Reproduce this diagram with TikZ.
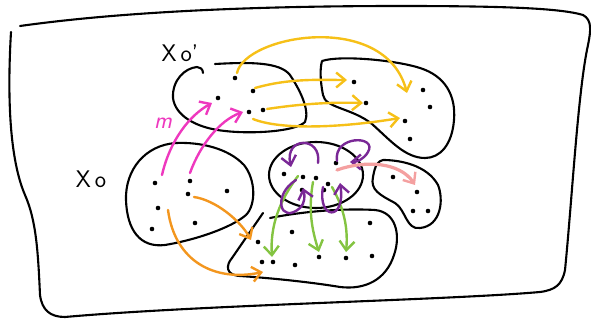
\documentclass[tikz,border=0pt]{standalone}
\usetikzlibrary{arrows.meta}
\definecolor{cyel}{RGB}{246,192,24}
\definecolor{cpink}{RGB}{238,56,190}
\definecolor{cora}{RGB}{243,150,30}
\definecolor{cpur}{RGB}{122,40,150}
\definecolor{cgrn}{RGB}{132,196,66}
\definecolor{csal}{RGB}{244,160,160}
\tikzset{
  blk/.style={line width=2.1pt,line cap=round,line join=round,black},
  arr/.style={line width=2.4pt,line cap=round,-{Straight Barb[length=9pt,width=15pt,line width=2.4pt]}},
  dotn/.style={circle,fill=black,inner sep=0pt,minimum size=4.6pt},
  lbl/.style={font=\fontsize{24}{24}\sffamily,inner sep=0pt}
}
\begin{document}
\begin{tikzpicture}[x=1pt,y=-1pt]
\useasboundingbox (0,0) rectangle (591,320);
% frame
\draw[blk] (20,26) .. controls (120,12) and (250,6) .. (400,6)
  .. controls (500,6) and (560,8) .. (583,15)
  .. controls (592,20) and (591,30) .. (588,45)
  .. controls (578,90) and (572,200) .. (565,270)
  .. controls (562,285) and (555,290) .. (540,292)
  .. controls (450,300) and (200,305) .. (65,317)
  .. controls (50,317) and (42,310) .. (40,295)
  .. controls (38,250) and (36,220) .. (25,195)
  .. controls (10,160) and (7,100) .. (11,32);
% labels
\node[lbl] (lx0p) at (180,53) {X\,o'};
\node[lbl] (lx0) at (91,179) {X\,o};
\node[font=\fontsize{24}{24}\sffamily\itshape,text=cpink,inner sep=0pt] (lm) at (163,123) {m};
% blobs
\draw[blk] (215,64) .. controls (250,62) and (280,62) .. (290,75)
  .. controls (300,90) and (310,110) .. (305,122)
  .. controls (295,132) and (250,134) .. (225,131)
  .. controls (195,128) and (175,115) .. (173,98)
  .. controls (172,80) and (185,68) .. (197,67)
  .. controls (200,67) and (203,69) .. (203,73);
\draw[blk] (322,61) .. controls (340,55) and (395,60) .. (420,68)
  .. controls (445,76) and (456,95) .. (454,120)
  .. controls (452,145) and (440,158) .. (425,158)
  .. controls (405,158) and (390,140) .. (372,124)
  .. controls (352,108) and (325,108) .. (323,95)
  .. controls (320,80) and (320,68) .. (322,61);
\draw[blk] (176,143) .. controls (200,142) and (228,148) .. (244,165)
  .. controls (256,180) and (256,205) .. (246,215)
  .. controls (231,228) and (195,240) .. (165,245)
  .. controls (140,248) and (127,230) .. (126,200)
  .. controls (125,170) and (145,145) .. (176,143) -- cycle;
\draw[blk] (316,175) ellipse [x radius=47, y radius=33];
\draw[blk] (383,160) .. controls (400,160) and (427,165) .. (438,185)
  .. controls (444,200) and (441,226) .. (420,228)
  .. controls (406,230) and (406,210) .. (395,203)
  .. controls (380,195) and (370,190) .. (373,177)
  .. controls (375,165) and (378,161) .. (383,160);
\draw[blk] (270,218) .. controls (300,212) and (340,208) .. (375,210)
  .. controls (396,212) and (401,235) .. (394,255)
  .. controls (386,280) and (365,290) .. (340,287)
  .. controls (310,282) and (270,278) .. (240,276)
  .. controls (225,275) and (226,265) .. (232,258) -- (263,213);
% dots
\foreach \p/\q [count=\i] in {235/78,253/91,218/98,249/112,263/110,
  354/82,366/103,423/90,430/107,405/121,410/139,
  155/183,190/181,227/191,188/194,158/208,195/223,152/229,
  284/174,303/177,316/178,328/184,336/163,302/190,324/190,
  393/177,417/192,413/211,428/211,
  258/242,292/232,370/223,262/262,273/262,295/265,319/257,346/258,372/256}
  \node[dotn] (d\i) at (\p,\q) {};
% yellow arrows
\draw[arr,cyel] (237,73) .. controls (245,35) and (385,10) .. (407,93);
\draw[arr,cyel] (255,88) .. controls (290,78) and (320,80) .. (347,80);
\draw[arr,cyel] (267,109) .. controls (300,104) and (330,102) .. (363,103);
\draw[arr,cyel] (253,119) .. controls (280,130) and (340,128) .. (400,118);
% pink arrows
\draw[arr,cpink] (162,175) .. controls (170,140) and (190,115) .. (212,103);
\draw[arr,cpink] (190,173) .. controls (200,145) and (220,120) .. (243,112);
% orange arrows
\draw[arr,cora] (194,197) .. controls (215,200) and (240,220) .. (251,240);
\draw[arr,cora] (168,210) .. controls (175,262) and (215,282) .. (263,272);
% green arrows
\draw[arr,cgrn] (298,176) .. controls (280,200) and (270,225) .. (272,257);
\draw[arr,cgrn] (313,182) .. controls (308,210) and (312,230) .. (319,252);
\draw[arr,cgrn] (332,187) .. controls (345,210) and (348,230) .. (346,252);
% purple loops
\draw[arr,cpur] (318,163) .. controls (322,136) and (284,136) .. (291,167);
\draw[arr,cpur] (337,161) .. controls (333,135) and (378,135) .. (368,152)
  .. controls (364,159) and (357,162) .. (350,162);
\draw[arr,cpur] (296,180) .. controls (272,195) and (280,225) .. (300,208)
  .. controls (305,203) and (305,196) .. (303,188);
\draw[arr,cpur] (323,187) .. controls (317,220) and (346,222) .. (340,183);
% salmon arrow
\draw[arr,csal,line width=3.2pt] (337,170) .. controls (365,160) and (400,162) .. (415,185);
\end{tikzpicture}
\end{document}
